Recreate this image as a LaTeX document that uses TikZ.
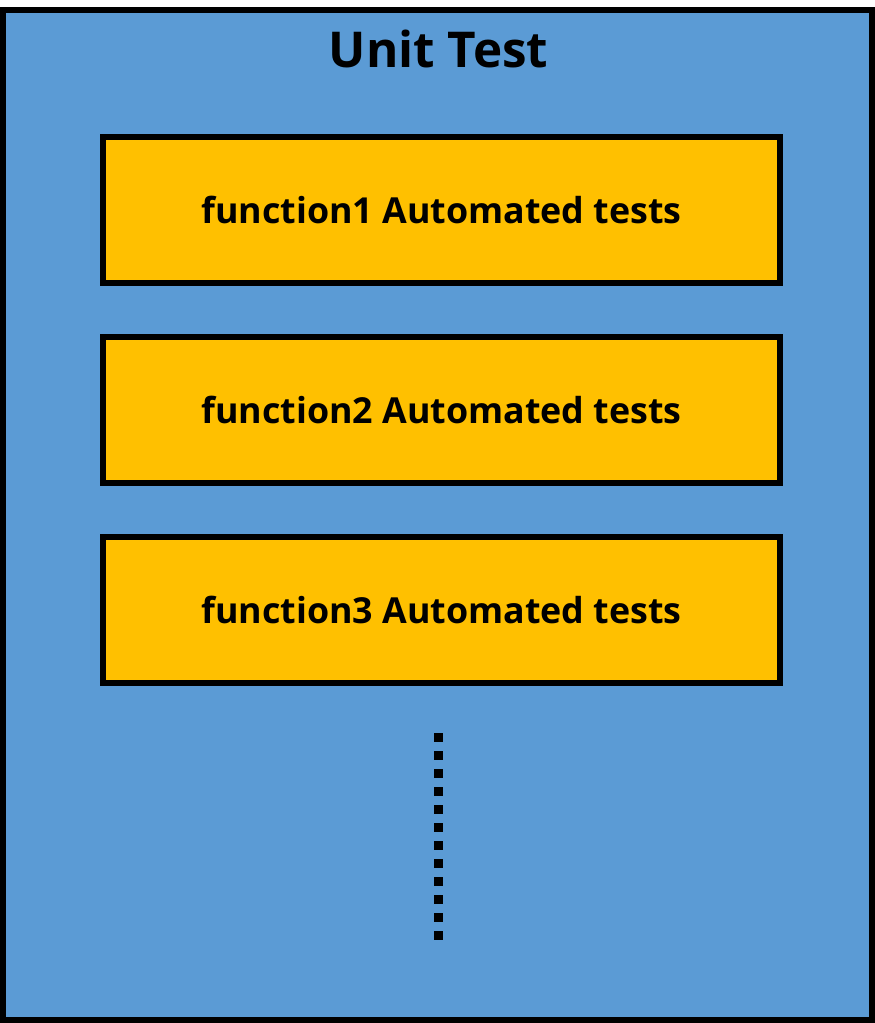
\documentclass[tikz,border=0pt]{standalone}
\usepackage{fontspec}
\setmainfont{Open Sans}
\definecolor{bluebg}{HTML}{5B9BD5}
\definecolor{orangebox}{HTML}{FFC000}
\begin{document}
\begin{tikzpicture}[x=1pt,y=-1pt,
  frame/.style={draw=black,line width=6pt,fill=bluebg,rectangle,minimum width=869pt,minimum height=1010pt,inner sep=0pt},
  testbox/.style={draw=black,line width=6pt,fill=orangebox,rectangle,minimum width=677pt,minimum height=146pt,inner sep=0pt,
    font=\fontsize{35.8}{42}\selectfont\bfseries},
  titletext/.style={font=\fontsize{49.4}{58}\selectfont\bfseries,inner sep=0pt},
  dotline/.style={line width=9pt,dash pattern=on 9pt off 9pt}]
\useasboundingbox (0,0) rectangle (875,1023);
\node[frame] (outer) at (437.5,515) {};
\node[titletext] (title) at (438.5,49) {Unit Test};
\node[testbox] (f1) at (441.5,210) {function1 Automated tests};
\node[testbox] (f2) at (441.5,410) {function2 Automated tests};
\node[testbox] (f3) at (441.5,610) {function3 Automated tests};
\coordinate (dtop) at (438.5,733);
\coordinate (dbot) at (438.5,940);
\draw[dotline] (dtop) -- (dbot);
\end{tikzpicture}
\end{document}
